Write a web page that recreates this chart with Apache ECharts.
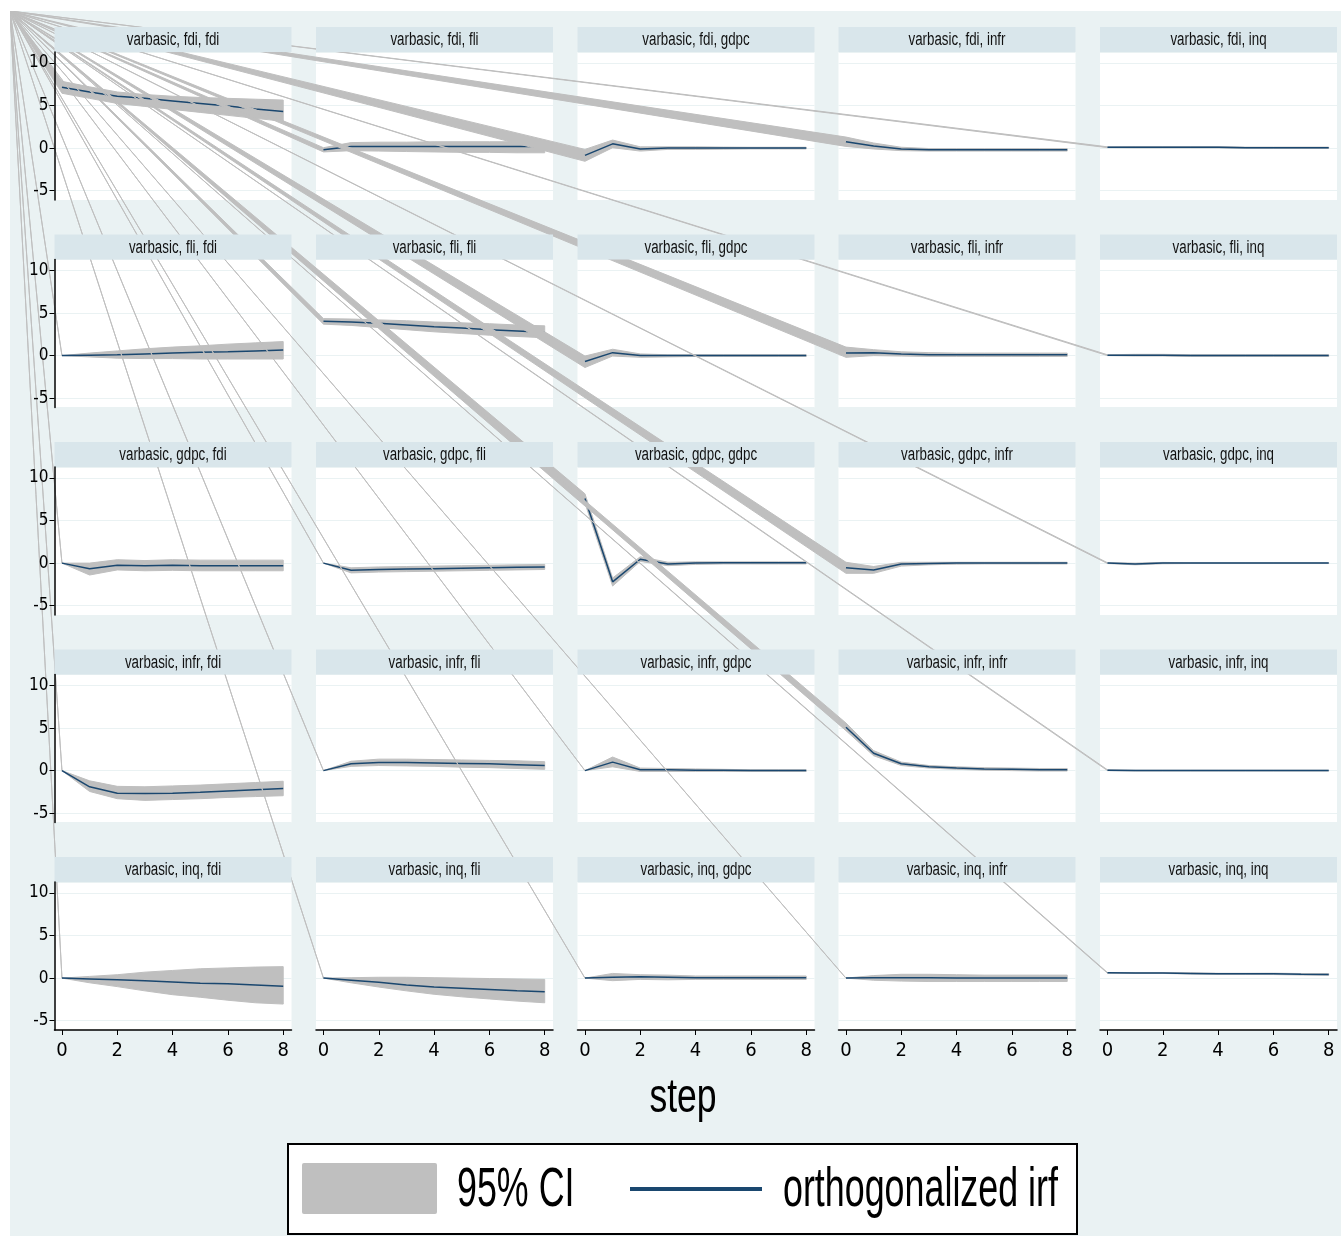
<!DOCTYPE html>
<html>
<head>
<meta charset="utf-8">
<script src="https://cdn.jsdelivr.net/npm/echarts@6/dist/echarts.min.js"></script>
<style>
html, body { margin: 0; padding: 0; background: #fff; }
#main { position: absolute; left: 10px; top: 11px; width: 1331px; height: 1225px; }
</style>
</head>
<body>
<div id="main"></div>
<script>
var steps = [0, 1, 2, 3, 4, 5, 6, 7, 8];
var vars = ['fdi', 'fli', 'gdpc', 'infr', 'inq'];
var xTicks = [0, 2, 4, 6, 8];
var yTicks = [-5, 0, 5, 10];

// impulse fdi
var irf_fdi_fdi = [7.15, 6.6, 6.1, 5.85, 5.55, 5.25, 4.95, 4.6, 4.3];
var lo_fdi_fdi  = [6.45, 5.85, 5.25, 4.9, 4.55, 4.2, 3.85, 3.5, 3.15];
var hi_fdi_fdi  = [7.85, 7.2, 6.6, 6.3, 6.1, 5.95, 5.85, 5.75, 5.65];
var irf_fdi_fli = [-0.2, 0.2, 0.2, 0.2, 0.2, 0.2, 0.2, 0.2, 0.2];
var lo_fdi_fli  = [-0.45, -0.3, -0.35, -0.4, -0.45, -0.5, -0.5, -0.55, -0.55];
var hi_fdi_fli  = [0.05, 0.65, 0.7, 0.7, 0.75, 0.75, 0.75, 0.75, 0.75];
var irf_fdi_gdpc = [-0.85, 0.5, -0.1, 0, 0, 0, 0, 0, 0];
var lo_fdi_gdpc  = [-1.55, 0.05, -0.35, -0.15, -0.15, -0.12, -0.1, -0.1, -0.1];
var hi_fdi_gdpc  = [-0.15, 0.95, 0.15, 0.15, 0.15, 0.12, 0.1, 0.1, 0.1];
var irf_fdi_infr = [0.75, 0.25, -0.1, -0.2, -0.2, -0.2, -0.2, -0.2, -0.2];
var lo_fdi_infr  = [0.2, -0.1, -0.3, -0.35, -0.35, -0.35, -0.35, -0.35, -0.35];
var hi_fdi_infr  = [1.3, 0.6, 0.1, -0.05, -0.05, -0.05, -0.05, -0.05, -0.05];
var irf_fdi_inq = [0.1, 0.1, 0.1, 0.1, 0.1, 0.05, 0.05, 0.05, 0.05];
var lo_fdi_inq  = [0.05, 0.02, 0.02, 0.02, 0.02, -0.02, -0.03, -0.03, -0.03];
var hi_fdi_inq  = [0.15, 0.18, 0.18, 0.18, 0.18, 0.12, 0.12, 0.12, 0.12];

// impulse fli
var irf_fli_fdi = [0, 0.05, 0.1, 0.2, 0.3, 0.4, 0.45, 0.55, 0.65];
var lo_fli_fdi  = [0, -0.15, -0.3, -0.35, -0.35, -0.4, -0.4, -0.4, -0.4];
var hi_fli_fdi  = [0, 0.3, 0.55, 0.8, 1.0, 1.15, 1.35, 1.5, 1.65];
var irf_fli_fli = [4.05, 3.95, 3.8, 3.6, 3.4, 3.25, 3.05, 2.9, 2.75];
var lo_fli_fli  = [3.7, 3.55, 3.3, 3.05, 2.8, 2.6, 2.4, 2.25, 2.1];
var hi_fli_fli  = [4.35, 4.3, 4.2, 4.1, 3.95, 3.85, 3.75, 3.6, 3.5];
var irf_fli_gdpc = [-0.7, 0.35, 0, 0, 0, 0, 0, 0, 0];
var lo_fli_gdpc  = [-1.4, -0.05, -0.2, -0.15, -0.1, -0.1, -0.1, -0.1, -0.1];
var hi_fli_gdpc  = [-0.05, 0.75, 0.2, 0.1, 0.1, 0.1, 0.1, 0.1, 0.1];
var irf_fli_infr = [0.3, 0.35, 0.2, 0.1, 0.1, 0.1, 0.1, 0.1, 0.1];
var lo_fli_infr  = [-0.2, 0, -0.05, -0.1, -0.1, -0.1, -0.1, -0.1, -0.1];
var hi_fli_infr  = [1.0, 0.7, 0.45, 0.35, 0.3, 0.3, 0.3, 0.3, 0.3];
var irf_fli_inq = [0.05, 0.05, 0.05, 0, 0, 0, 0, 0, 0];
var lo_fli_inq  = [0, -0.05, -0.05, -0.1, -0.1, -0.1, -0.1, -0.1, -0.1];
var hi_fli_inq  = [0.1, 0.15, 0.15, 0.1, 0.1, 0.1, 0.1, 0.1, 0.1];

// impulse gdpc
var irf_gdpc_fdi = [0, -0.65, -0.25, -0.3, -0.25, -0.3, -0.3, -0.3, -0.3];
var lo_gdpc_fdi  = [0, -1.4, -0.8, -0.9, -0.85, -0.9, -0.9, -0.9, -0.9];
var hi_gdpc_fdi  = [0, 0, 0.4, 0.3, 0.4, 0.35, 0.35, 0.35, 0.35];
var irf_gdpc_fli = [0, -0.85, -0.75, -0.7, -0.65, -0.6, -0.55, -0.5, -0.45];
var lo_gdpc_fli  = [0, -1.15, -1.05, -1.0, -0.95, -0.9, -0.85, -0.8, -0.75];
var hi_gdpc_fli  = [0, -0.55, -0.45, -0.4, -0.35, -0.3, -0.25, -0.2, -0.15];
var irf_gdpc_gdpc = [7.6, -2.2, 0.45, -0.1, 0, 0.03, 0.03, 0.03, 0.03];
var lo_gdpc_gdpc  = [7.05, -2.7, 0.2, -0.3, -0.15, -0.1, -0.1, -0.1, -0.1];
var hi_gdpc_gdpc  = [8.15, -1.75, 0.75, 0.1, 0.15, 0.15, 0.15, 0.15, 0.15];
var irf_gdpc_infr = [-0.55, -0.8, -0.1, -0.05, 0, 0, 0, 0, 0];
var lo_gdpc_infr  = [-1.2, -1.2, -0.35, -0.2, -0.12, -0.1, -0.1, -0.1, -0.1];
var hi_gdpc_infr  = [0.1, -0.4, 0.1, 0.1, 0.1, 0.1, 0.1, 0.1, 0.1];
var irf_gdpc_inq = [0, -0.1, 0, 0, 0, 0, 0, 0, 0];
var lo_gdpc_inq  = [-0.05, -0.2, -0.08, -0.05, -0.05, -0.05, -0.05, -0.05, -0.05];
var hi_gdpc_inq  = [0.05, 0, 0.08, 0.05, 0.05, 0.05, 0.05, 0.05, 0.05];

// impulse infr
var irf_infr_fdi = [0, -1.9, -2.65, -2.7, -2.65, -2.55, -2.4, -2.25, -2.1];
var lo_infr_fdi  = [0, -2.45, -3.3, -3.5, -3.4, -3.3, -3.15, -3.05, -2.95];
var hi_infr_fdi  = [0, -1.2, -1.85, -1.9, -1.8, -1.7, -1.55, -1.4, -1.25];
var irf_infr_fli = [0, 0.8, 0.95, 0.95, 0.9, 0.85, 0.8, 0.7, 0.6];
var lo_infr_fli  = [0, 0.5, 0.6, 0.55, 0.5, 0.4, 0.35, 0.25, 0.15];
var hi_infr_fli  = [0, 1.1, 1.35, 1.35, 1.3, 1.25, 1.2, 1.15, 1.05];
var irf_infr_gdpc = [0, 1.0, 0.1, 0.1, 0.05, 0.05, 0, 0, 0];
var lo_infr_gdpc  = [0, 0.45, -0.1, -0.1, -0.1, -0.1, -0.1, -0.1, -0.1];
var hi_infr_gdpc  = [0, 1.6, 0.3, 0.25, 0.2, 0.15, 0.1, 0.1, 0.1];
var irf_infr_infr = [5.1, 2.05, 0.8, 0.45, 0.3, 0.2, 0.15, 0.1, 0.1];
var lo_infr_infr  = [4.7, 1.75, 0.6, 0.3, 0.15, 0.05, 0, -0.05, -0.05];
var hi_infr_infr  = [5.6, 2.35, 1.0, 0.6, 0.45, 0.35, 0.3, 0.25, 0.25];
var irf_infr_inq = [0.05, 0, 0, 0, 0, 0, 0, 0, 0];
var lo_infr_inq  = [0, -0.05, -0.05, -0.05, -0.05, -0.05, -0.05, -0.05, -0.05];
var hi_infr_inq  = [0.1, 0.05, 0.05, 0.05, 0.05, 0.05, 0.05, 0.05, 0.05];

// impulse inq
var irf_inq_fdi = [0, -0.1, -0.2, -0.3, -0.45, -0.6, -0.65, -0.8, -0.95];
var lo_inq_fdi  = [0, -0.55, -1.0, -1.5, -1.95, -2.25, -2.6, -2.9, -3.05];
var hi_inq_fdi  = [0, 0.2, 0.4, 0.7, 0.9, 1.1, 1.2, 1.3, 1.35];
var irf_inq_fli = [0, -0.25, -0.5, -0.8, -1.05, -1.2, -1.35, -1.5, -1.6];
var lo_inq_fli  = [0, -0.55, -1.05, -1.5, -1.9, -2.2, -2.45, -2.7, -2.9];
var hi_inq_fli  = [0, 0.05, 0.1, 0.1, 0.05, 0, -0.05, -0.1, -0.15];
var irf_inq_gdpc = [0, 0.1, 0.15, 0.1, 0.05, 0.05, 0.05, 0.05, 0.05];
var lo_inq_gdpc  = [0, -0.3, -0.15, -0.2, -0.15, -0.15, -0.15, -0.15, -0.15];
var hi_inq_gdpc  = [0, 0.55, 0.4, 0.35, 0.25, 0.25, 0.25, 0.25, 0.25];
var irf_inq_infr = [0, 0.05, 0.05, 0.05, 0, 0, 0, 0, 0];
var lo_inq_infr  = [0, -0.25, -0.35, -0.4, -0.4, -0.4, -0.4, -0.4, -0.4];
var hi_inq_infr  = [0, 0.3, 0.45, 0.45, 0.4, 0.35, 0.35, 0.35, 0.35];
var irf_inq_inq = [0.62, 0.6, 0.6, 0.55, 0.5, 0.5, 0.5, 0.45, 0.43];
var lo_inq_inq  = [0.58, 0.55, 0.55, 0.48, 0.43, 0.43, 0.42, 0.36, 0.34];
var hi_inq_inq  = [0.66, 0.65, 0.65, 0.62, 0.57, 0.57, 0.58, 0.54, 0.52];

var chart = echarts.init(document.getElementById('main'));

// page offset of the graph region (chart origin)
var OX = 10, OY = 11;
var colLeft = [54.5, 316, 577.5, 838.5, 1100];
var rowTop = [52, 259.5, 467, 674.5, 882];
var plotW = 237, plotH = 148, barH = 25;
var yMin = -6.1, yMax = 11.3;

var ciColor = '#bfbfbf';
var lineColor = '#1a476f';
var narrow = '"Liberation Sans Narrow", "DejaVu Sans Condensed", sans-serif';
var sans = '"Liberation Sans", Arial, sans-serif';

// the CI area, closed through the graph corner (as in the original export)
function makeCI(lo, hi) {
    return function (params, api) {
        if (params.dataIndex !== 0) return null;
        var pts = [[0, 0]];
        for (var i = 0; i < steps.length; i++) {
            pts.push(api.coord([steps[i], hi[i]]));
        }
        for (var j = steps.length - 1; j >= 0; j--) {
            pts.push(api.coord([steps[j], lo[j]]));
        }
        return {
            type: 'polygon',
            shape: { points: pts },
            style: { fill: ciColor, stroke: ciColor, lineWidth: 1 }
        };
    };
}

var grids = [], xAxes = [], yAxes = [], yLabelAxes = [], series = [], elements = [];

vars.forEach(function (imp, r) {
    vars.forEach(function (resp, c) {
        var k = r * 5 + c;
        var key = imp + '_' + resp;
        var irf = window['irf_' + key];
        var lo = window['lo_' + key];
        var hi = window['hi_' + key];
        var left = colLeft[c] - OX, top = rowTop[r] - OY;

        grids.push({
            left: left, top: top, width: plotW, height: plotH,
            show: true, backgroundColor: '#fff', borderWidth: 0
        });
        xAxes.push({
            gridIndex: k, type: 'value', min: -0.27, max: 8.3, z: 300,
            splitLine: { show: false },
            axisLine: { show: r === 4, onZero: false, lineStyle: { color: '#000', width: 1.5 } },
            axisTick: { show: r === 4, length: 5, customValues: xTicks, lineStyle: { color: '#000', width: 1 } },
            axisLabel: { show: r === 4, customValues: xTicks, margin: 11, color: '#000', fontFamily: narrow, fontSize: 20 }
        });
        // gridlines only (under the series)
        yAxes.push({
            gridIndex: k, type: 'value', min: yMin, max: yMax, splitNumber: 3,
            position: c === 0 ? 'right' : 'left',
            splitLine: { show: true, lineStyle: { color: '#eaf2f3', width: 1 } },
            axisLine: { show: false }, axisTick: { show: false }, axisLabel: { show: false }
        });
        // left axis with labels, drawn over the CI areas
        if (c === 0) {
            yLabelAxes.push({
                gridIndex: k, type: 'value', min: yMin, max: yMax, position: 'left', z: 300,
                splitLine: { show: false },
                axisLine: { show: true, onZero: false, lineStyle: { color: '#000', width: 1.5 } },
                axisTick: { show: true, length: 5, customValues: yTicks, lineStyle: { color: '#000', width: 1 } },
                axisLabel: { show: true, customValues: yTicks, margin: 6, color: '#000', fontFamily: narrow, fontSize: 17 }
            });
        }

        series.push({
            type: 'custom', name: '95% CI', xAxisIndex: k, yAxisIndex: k,
            clip: false, silent: true, z: 10 + 2 * k,
            data: steps.map(function (s, i) { return [s, lo[i], hi[i]]; }),
            renderItem: makeCI(lo, hi)
        });
        series.push({
            type: 'line', name: 'orthogonalized irf', xAxisIndex: k, yAxisIndex: k,
            silent: true, z: 11 + 2 * k, symbol: 'none',
            lineStyle: { color: lineColor, width: 1.5 },
            data: steps.map(function (s, i) { return [s, irf[i]]; })
        });

        // panel strip
        elements.push({
            type: 'rect', z: 200,
            shape: { x: left, y: top - barH, width: plotW, height: barH },
            style: { fill: '#d9e6eb' }
        });
        elements.push({
            type: 'text', z: 201, x: left + plotW / 2, y: top - barH + 13.5, scaleX: 0.74,
            style: {
                text: 'varbasic, ' + imp + ', ' + resp, x: 0, y: 0,
                textAlign: 'center', verticalAlign: 'middle', textVerticalAlign: 'middle',
                font: '18px ' + sans, fill: '#111'
            }
        });
    });
});

// x title
elements.push({
    type: 'text', z: 201, x: 683 - OX, y: 1115 - 16.6 - OY, scaleX: 0.74,
    style: {
        text: 'step', x: 0, y: 0, textAlign: 'center', verticalAlign: 'middle', textVerticalAlign: 'middle',
        font: '48px ' + sans, fill: '#000'
    }
});

// legend box
elements.push({
    type: 'rect', z: 200,
    shape: { x: 288 - OX, y: 1144 - OY, width: 789, height: 90 },
    style: { fill: '#fff', stroke: '#000', lineWidth: 2 }
});
elements.push({
    type: 'rect', z: 201,
    shape: { x: 302 - OX, y: 1163 - OY, width: 135, height: 51, r: 2 },
    style: { fill: ciColor }
});
elements.push({
    type: 'text', z: 201, x: 457 - OX, y: 1210 - 19.4 - OY, scaleX: 0.64,
    style: {
        text: '95% CI', x: 0, y: 0, textAlign: 'left', verticalAlign: 'middle', textVerticalAlign: 'middle',
        font: '56px ' + sans, fill: '#000'
    }
});
elements.push({
    type: 'line', z: 201,
    shape: { x1: 630 - OX, y1: 1189 - OY, x2: 762 - OX, y2: 1189 - OY },
    style: { stroke: lineColor, lineWidth: 4 }
});
elements.push({
    type: 'text', z: 201, x: 783 - OX, y: 1210 - 19.4 - OY, scaleX: 0.64,
    style: {
        text: 'orthogonalized irf', x: 0, y: 0, textAlign: 'left', verticalAlign: 'middle', textVerticalAlign: 'middle',
        font: '56px ' + sans, fill: '#000'
    }
});

var option = {
    animation: false,
    backgroundColor: '#eaf2f3',
    textStyle: { fontFamily: narrow },
    grid: grids,
    xAxis: xAxes,
    yAxis: yAxes.concat(yLabelAxes),
    series: series,
    graphic: { elements: elements }
};
chart.setOption(option);
</script>
</body>
</html>
